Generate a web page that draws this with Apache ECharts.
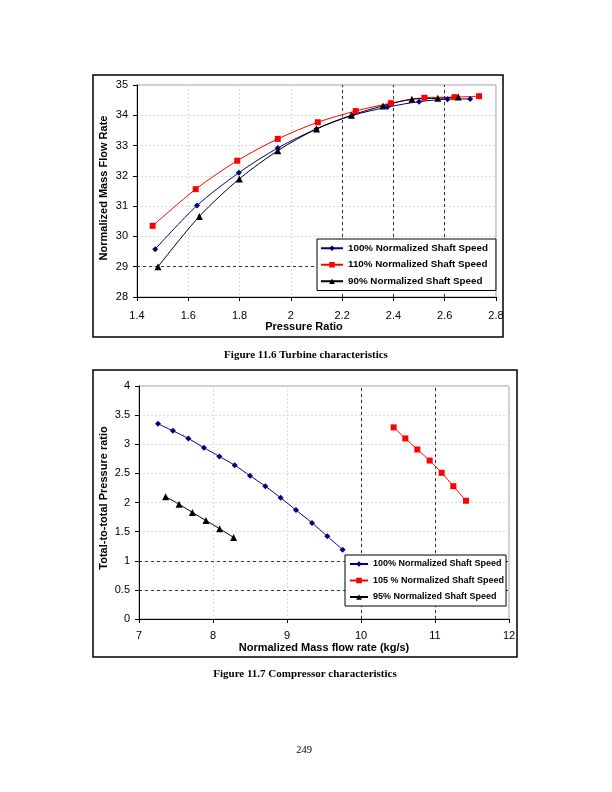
<!DOCTYPE html>
<html>
<head>
<meta charset="utf-8">
<script src="https://cdn.jsdelivr.net/npm/echarts@6/dist/echarts.min.js"></script>
<style>
html,body{margin:0;padding:0;background:#fff;}
#main{width:612px;height:792px;}
</style>
</head>
<body>
<div id="main"></div>
<script>
// ---- Figure 11.6 Turbine characteristics ----
const turbineNames = ['100% Normalized Shaft Speed', '110% Normalized Shaft Speed', '90% Normalized Shaft Speed'];
const turbine100X = [1.471, 1.634, 1.797, 1.949, 2.100, 2.238, 2.377, 2.500, 2.611, 2.699];
const turbine100Y = [29.58, 31.02, 32.10, 32.92, 33.55, 33.99, 34.27, 34.45, 34.53, 34.54];
const turbine110X = [1.461, 1.629, 1.791, 1.949, 2.105, 2.253, 2.390, 2.521, 2.638, 2.734];
const turbine110Y = [30.35, 31.56, 32.50, 33.22, 33.77, 34.14, 34.40, 34.58, 34.60, 34.63];
const turbine90X = [1.482, 1.643, 1.799, 1.949, 2.100, 2.236, 2.359, 2.472, 2.573, 2.653];
const turbine90Y = [29.00, 30.66, 31.90, 32.83, 33.55, 34.00, 34.31, 34.53, 34.56, 34.60];
const turbineRefX = [2.2, 2.4, 2.6];
const turbineRefY = [29];

// ---- Figure 11.7 Compressor characteristics ----
const compNames = ['100% Normalized Shaft Speed', '105 % Normalized Shaft Speed', '95% Normalized Shaft Speed'];
const comp100X = [7.257, 7.459, 7.667, 7.878, 8.086, 8.293, 8.500, 8.707, 8.914, 9.122, 9.338, 9.545, 9.752];
const comp100Y = [3.35, 3.23, 3.10, 2.94, 2.79, 2.64, 2.46, 2.28, 2.08, 1.87, 1.65, 1.42, 1.19];
const comp105X = [10.441, 10.599, 10.761, 10.928, 11.090, 11.248, 11.419];
const comp105Y = [3.29, 3.10, 2.91, 2.72, 2.51, 2.28, 2.03];
const comp95X = [7.360, 7.541, 7.721, 7.905, 8.090, 8.279];
const comp95Y = [2.10, 1.97, 1.83, 1.69, 1.55, 1.40];
const compRefX = [10, 11];
const compRefY = [1, 0.5];

const SANS = '"Liberation Sans", Arial, sans-serif';
const SERIF = '"Liberation Serif", "Times New Roman", serif';

function pairs(xs, ys) { return xs.map((x, i) => [x, ys[i]]); }

function axisBase(min, max, interval, margin) {
  return {
    type: 'value', min: min, max: max, interval: interval,
    axisLine: { show: true, onZero: false, lineStyle: { color: '#000', width: 1 } },
    axisTick: { show: true, inside: false, length: 4, lineStyle: { color: '#000' } },
    axisLabel: { color: '#000', fontSize: 11, fontFamily: SANS, margin: margin },
    splitLine: { show: true, lineStyle: { color: '#dcdcdc', type: [2, 2], width: 1 } }
  };
}

function refLines(xs, ys) {
  return {
    silent: true, symbol: ['none', 'none'], animation: false, z: 1,
    label: { show: false },
    emphasis: { disabled: true },
    lineStyle: { color: '#333', type: [3, 3], width: 1 },
    data: xs.map(v => ({ xAxis: v })).concat(ys.map(v => ({ yAxis: v })))
  };
}

function mkSeries(name, data, gi, color, symbol, size, extra) {
  return Object.assign({
    name: name, type: 'line', xAxisIndex: gi, yAxisIndex: gi,
    data: data, smooth: 0.3, symbol: symbol, symbolSize: size,
    showAllSymbol: true,
    lineStyle: { color: color, width: 1 },
    itemStyle: { color: color, borderWidth: 0 },
    emphasis: { disabled: true }, animation: false
  }, extra || {});
}

const option = {
  animation: false,
  backgroundColor: '#fff',
  grid: [
    { left: 137, top: 85, width: 359, height: 212, show: true, borderColor: '#9a9a9a', borderWidth: 1, backgroundColor: 'transparent' },
    { left: 139, top: 386, width: 370, height: 233, show: true, borderColor: '#9a9a9a', borderWidth: 1, backgroundColor: 'transparent' }
  ],
  xAxis: [
    Object.assign(axisBase(1.4, 2.8, 0.2, 13), { gridIndex: 0 }),
    Object.assign(axisBase(7, 12, 1, 11), { gridIndex: 1 })
  ],
  yAxis: [
    Object.assign(axisBase(28, 35, 1, 9), { gridIndex: 0 }),
    Object.assign(axisBase(0, 4, 0.5, 9), { gridIndex: 1 })
  ],
  legend: [
    {
      data: turbineNames, orient: 'vertical', left: 317, top: 239, z: 20,
      backgroundColor: '#fff', borderColor: '#000', borderWidth: 1, borderRadius: 0,
      padding: [4, 8, 4, 3], itemGap: 6, itemWidth: 22, itemHeight: 7,
      textStyle: { fontSize: 9.8, fontWeight: 'bold', fontFamily: SANS, color: '#000', lineHeight: 10.5 },
      selectedMode: false
    },
    {
      data: compNames, orient: 'vertical', left: 345, top: 555, z: 20,
      backgroundColor: '#fff', borderColor: '#000', borderWidth: 1, borderRadius: 0,
      padding: [4, 2, 4, 4], itemGap: 6.5, itemWidth: 18, itemHeight: 7,
      textStyle: { fontSize: 9, fontWeight: 'bold', fontFamily: SANS, color: '#000', lineHeight: 10 },
      selectedMode: false
    }
  ],
  series: [
    mkSeries(turbineNames[0], pairs(turbine100X, turbine100Y), 0, '#000080', 'diamond', 6,
      { markLine: refLines(turbineRefX, turbineRefY) }),
    mkSeries(turbineNames[1], pairs(turbine110X, turbine110Y), 0, '#ff0000', 'rect', 6),
    mkSeries(turbineNames[2], pairs(turbine90X, turbine90Y), 0, '#000000', 'triangle', 7),
    mkSeries(compNames[0], pairs(comp100X, comp100Y), 1, '#000080', 'diamond', 6,
      { markLine: refLines(compRefX, compRefY) }),
    mkSeries(compNames[1], pairs(comp105X, comp105Y), 1, '#ff0000', 'rect', 6),
    mkSeries(compNames[2], pairs(comp95X, comp95Y), 1, '#000000', 'triangle', 7)
  ],
  graphic: [
    { type: 'rect', z: -10, shape: { x: 93, y: 75, width: 410, height: 262 }, style: { fill: 'none', stroke: '#000', lineWidth: 1.5 } },
    { type: 'rect', z: -10, shape: { x: 93, y: 370, width: 424, height: 287 }, style: { fill: 'none', stroke: '#000', lineWidth: 1.5 } },
    { type: 'text', x: 104, y: 188, rotation: Math.PI / 2,
      style: { text: 'Normalized Mass Flow Rate', fontSize: 11, fontWeight: 'bold', fontFamily: SANS, fill: '#000', align: 'center', verticalAlign: 'middle' } },
    { type: 'text', x: 304, y: 327,
      style: { text: 'Pressure Ratio', fontSize: 11, fontWeight: 'bold', fontFamily: SANS, fill: '#000', align: 'center', verticalAlign: 'middle' } },
    { type: 'text', x: 104, y: 498, rotation: Math.PI / 2,
      style: { text: 'Total-to-total Pressure ratio', fontSize: 11, fontWeight: 'bold', fontFamily: SANS, fill: '#000', align: 'center', verticalAlign: 'middle' } },
    { type: 'text', x: 324, y: 648,
      style: { text: 'Normalized Mass flow rate (kg/s)', fontSize: 11, fontWeight: 'bold', fontFamily: SANS, fill: '#000', align: 'center', verticalAlign: 'middle' } },
    { type: 'text', x: 306, y: 355,
      style: { text: 'Figure 11.6 Turbine characteristics', fontSize: 11, fontWeight: 'bold', fontFamily: SERIF, fill: '#000', align: 'center', verticalAlign: 'middle' } },
    { type: 'text', x: 305, y: 674,
      style: { text: 'Figure 11.7 Compressor characteristics', fontSize: 11, fontWeight: 'bold', fontFamily: SERIF, fill: '#000', align: 'center', verticalAlign: 'middle' } },
    { type: 'text', x: 304, y: 750,
      style: { text: '249', fontSize: 10.5, fontFamily: SERIF, fill: '#000', align: 'center', verticalAlign: 'middle' } }
  ]
};

const chart = echarts.init(document.getElementById('main'), null, { renderer: 'canvas' });
chart.setOption(option);
</script>
</body>
</html>
